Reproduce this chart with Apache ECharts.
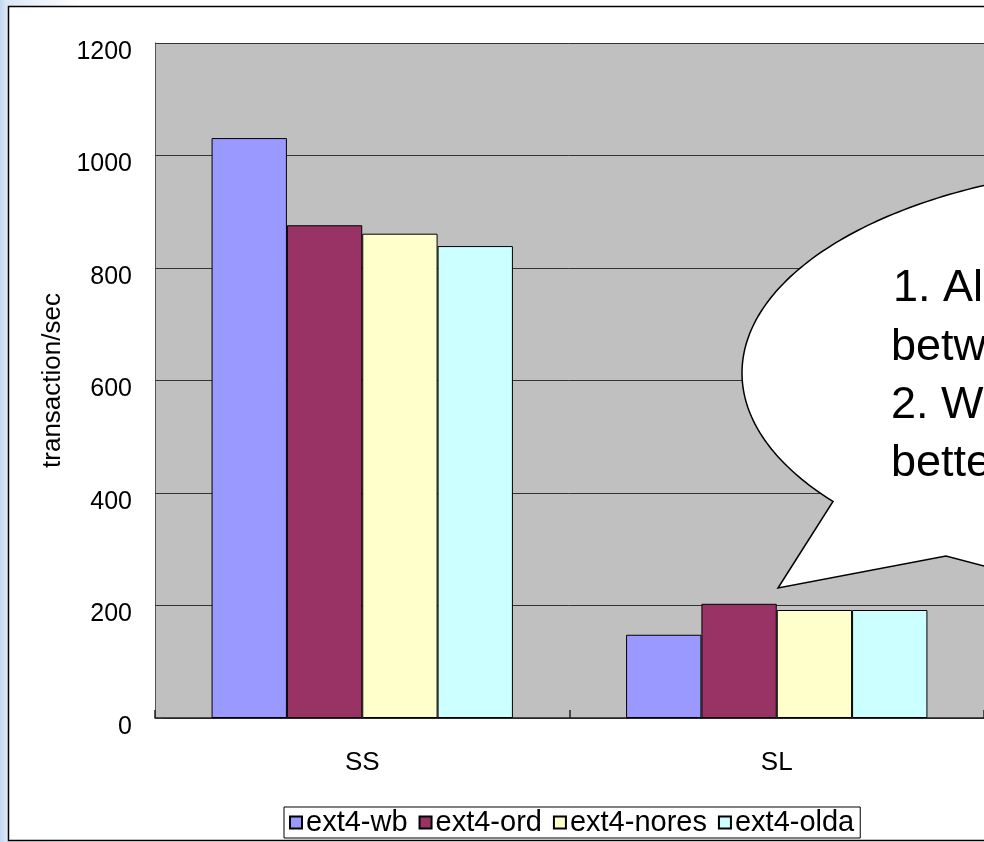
<!DOCTYPE html>
<html>
<head>
<meta charset="utf-8">
<script src="https://cdn.jsdelivr.net/npm/echarts@6/dist/echarts.min.js"></script>
<style>
  html, body { margin: 0; padding: 0; }
  body {
    width: 984px; height: 842px; overflow: hidden;
    background: linear-gradient(to right, #c2d8f0 0px, #dce8f7 7px, #ffffff 80px);
  }
  #chart { width: 984px; height: 842px; }
</style>
</head>
<body>
<div id="chart"></div>
<script>
// Throughput per journaling mode, two workloads
const categories = ['SS', 'SL'];
const seriesNames = ['ext4-wb', 'ext4-ord', 'ext4-nores', 'ext4-olda'];
const wbValues    = [1031, 148];
const ordValues   = [876, 203];
const noresValues = [861, 192];
const oldaValues  = [839, 192];
const yTicks = [0, 200, 400, 600, 800, 1000, 1200];
const axisTitle = 'transaction/sec';
const noteLines = ['1. Al', 'betw', '2. W', 'bette'];

const colors = ['#9999ff', '#993366', '#ffffcc', '#ccffff'];
const valueSets = [wbValues, ordValues, noresValues, oldaValues];
const FONT = '"Liberation Sans", Arial, sans-serif';

// Speech-bubble outline: elliptical body plus a pointed tail
function bubblePoints() {
  const cx = 1168, cy = 373, rx = 426, ry = 208;
  const pts = [];
  const t0 = Math.acos((833 - cx) / rx);      // lower-left tail base
  const t1 = 290 * Math.PI / 180;             // past the right edge
  const steps = 160;
  for (let i = 0; i <= steps; i++) {
    const t = t0 + (t1 - t0) * i / steps;
    pts.push([cx + rx * Math.cos(t), cy + ry * Math.sin(t)]);
  }
  pts.push([1320, 640]);
  pts.push([1010, 573]);
  pts.push([946, 556]);
  pts.push([778, 588]);
  return pts;
}

const noteElements = noteLines.map((line, i) => ({
  type: 'text',
  z: 101,
  style: {
    text: line,
    x: i === 0 ? 893 : 891,
    y: 289 + i * 58.3,
    fill: '#000',
    font: '45px ' + FONT,
    verticalAlign: 'middle',
    align: 'left'
  }
}));

const chart = echarts.init(document.getElementById('chart'), null, { renderer: 'canvas' });

chart.setOption({
  animation: false,
  backgroundColor: 'transparent',
  textStyle: { fontFamily: FONT, color: '#000' },
  grid: {
    left: 155, top: 43, width: 830, height: 675,
    show: true, backgroundColor: '#c0c0c0', borderWidth: 0
  },
  legend: {
    data: seriesNames,
    left: 284, top: 807,
    padding: [1, 6, 1, 5],
    itemGap: 11,
    itemWidth: 12, itemHeight: 12,
    icon: 'rect',
    borderColor: '#000', borderWidth: 1,
    backgroundColor: '#fff',
    textStyle: { fontSize: 29, fontFamily: FONT, color: '#000', padding: [0, 0, 0, -1] }
  },
  xAxis: {
    type: 'category',
    data: categories,
    boundaryGap: true,
    axisLine: { show: true, lineStyle: { color: '#222', width: 1.5 } },
    axisTick: { show: true, inside: true, length: 8, interval: 0, lineStyle: { color: '#222', width: 1.5 } },
    axisLabel: { fontSize: 26, color: '#000', margin: 32, fontFamily: FONT },
    splitLine: { show: false }
  },
  yAxis: {
    type: 'value',
    min: yTicks[0],
    max: yTicks[yTicks.length - 1],
    interval: yTicks[1] - yTicks[0],
    name: axisTitle,
    nameLocation: 'middle',
    nameGap: 86,
    nameTextStyle: { fontSize: 26, color: '#000', fontFamily: FONT },
    axisLine: { show: true, lineStyle: { color: '#555', width: 1 } },
    axisTick: { show: true, inside: true, length: 8, lineStyle: { color: '#333', width: 1 } },
    axisLabel: {
      fontSize: 25, color: '#000', margin: 23, fontFamily: FONT,
      verticalAlign: 'top', lineHeight: 18,
      formatter: (v) => String(v)
    },
    splitLine: { show: true, lineStyle: { color: '#333', width: 1 } }
  },
  series: valueSets.map((vals, i) => ({
    name: seriesNames[i],
    type: 'bar',
    data: vals,
    barGap: '0%',
    barCategoryGap: '27.3%',
    itemStyle: { color: colors[i], borderColor: '#000', borderWidth: 1 },
    emphasis: { disabled: true }
  })),
  graphic: [
    {
      type: 'rect',
      z: -10,
      silent: true,
      shape: { x: 8.5, y: 6.5, width: 1000, height: 834 },
      style: { fill: '#fff', stroke: '#000', lineWidth: 1.5 }
    },
    {
      type: 'polygon',
      z: 100,
      silent: true,
      shape: { points: bubblePoints() },
      style: { fill: '#fff', stroke: '#000', lineWidth: 1.5 }
    }
  ].concat(noteElements)
});
</script>
</body>
</html>
